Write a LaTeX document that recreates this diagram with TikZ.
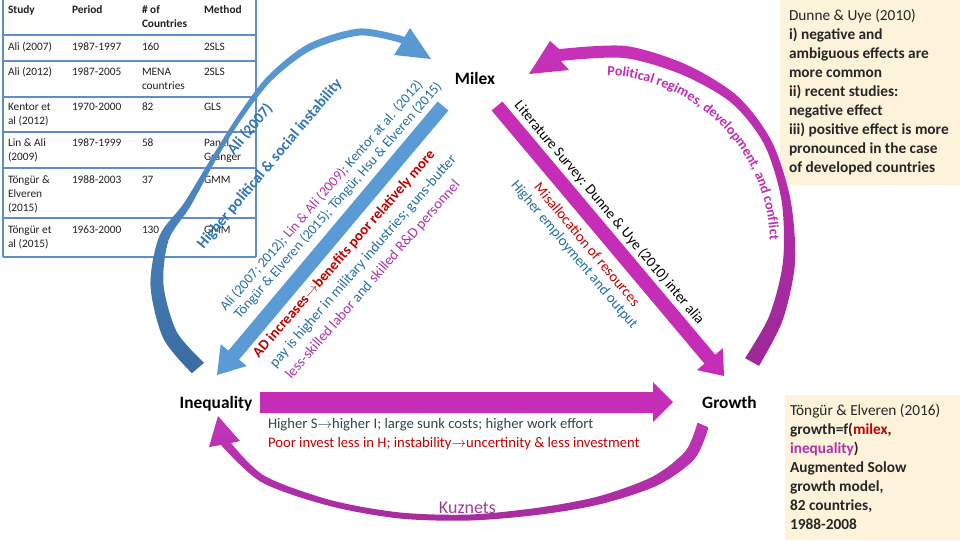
\documentclass[tikz,border=0pt]{standalone}
\usepackage{fontspec}
\setmainfont{Carlito}
\usetikzlibrary{calc,decorations.text}
\definecolor{tblue}{HTML}{246EA5}
\definecolor{hpblue}{HTML}{2E74B5}
\definecolor{tmag}{HTML}{B032A8}
\definecolor{tred}{HTML}{C00000}
\definecolor{tdark}{HTML}{2D4654}
\definecolor{bandblue}{HTML}{5B9BD5}
\definecolor{bandmag}{HTML}{C62DB6}
\definecolor{arcblueL}{HTML}{5B9BD5}
\definecolor{arcblueD}{HTML}{3A6BA3}
\definecolor{arcmagL}{HTML}{C731B9}
\definecolor{arcmagD}{HTML}{9C2898}
\definecolor{kuzmag}{HTML}{C334BA}
\definecolor{kuztext}{HTML}{9C3CA0}
\definecolor{boxfill}{HTML}{FDF2DA}
\definecolor{boxtext}{HTML}{262626}
\definecolor{tline}{HTML}{5E8DC8}
\definecolor{polc}{HTML}{BE2EB2}
\begin{document}
\begin{tikzpicture}[x=0.75pt,y=-0.75pt,
  lbl/.style={inner sep=0pt, outer sep=0pt},
  tbl/.style={lbl, anchor=base west, font=\fontsize{8.5}{10.5}\selectfont, text=black!88},
  tbh/.style={tbl, font=\fontsize{8.5}{10.5}\selectfont\bfseries},
  boxb/.style={lbl, anchor=base west, font=\fontsize{11.5}{14}\selectfont\bfseries, text=boxtext},
  boxr/.style={boxb, font=\fontsize{11.5}{14}\selectfont},
  mainlbl/.style={lbl, anchor=base, font=\fontsize{13}{15}\selectfont\bfseries, text=black},
  rottxt/.style={lbl, font=\fontsize{10.5}{12}\selectfont},
  rottxtb/.style={lbl, font=\fontsize{11}{13}\selectfont},
  tabline/.style={tline, line width=1.1pt}]
\useasboundingbox (0,0) rectangle (960,540);

% ---------- yellow boxes ----------
\fill[boxfill] (780,0) rectangle (960,185);
\fill[boxfill] (785,395) rectangle (960,540);

% ---------- table ----------
\draw[tabline] (3,0) -- (3,257) (256,0) -- (256,257);
\foreach \yy in {35,61,97,132,168,218,257} \draw[tabline] (3,\yy) -- (256,\yy);
\foreach \px/\py/\txt [count=\i] in {8/13.5/Study, 72/13.5/Period, 142/13.5/\# of, 142/27.5/Countries, 204/13.5/Method}
  \node[tbh] (th\i) at (\px,\py) {\txt};
\foreach \px/\py/\txt [count=\i] in {
  8/50/Ali (2007), 72/50/1987-1997, 142/50/160, 204/50/2SLS,
  8/75.5/Ali (2012), 72/75.5/1987-2005, 142/75.5/MENA, 142/89.5/countries, 204/75.5/2SLS,
  8/110.5/Kentor et, 8/124.5/al (2012), 72/110.5/1970-2000, 142/110.5/82, 204/110.5/GLS,
  8/146.5/Lin \& Ali, 8/160.5/(2009), 72/146.5/1987-1999, 142/146.5/58, 204/146.5/Panel, 204/160.5/Granger,
  8/183.5/Töngür \&, 8/197.5/Elveren, 8/211.5/(2015), 72/183.5/1988-2003, 142/183.5/37, 204/183.5/GMM,
  8/233.5/Töngür et, 8/247.5/al (2015), 72/233.5/1963-2000, 142/233.5/130, 204/233.5/GMM}
  \node[tbl] (td\i) at (\px,\py) {\txt};

% ---------- main nodes ----------
\node[mainlbl] (milex) at (475,84) {Milex};
\node[mainlbl] (ineq) at (216,408.5) {Inequality};
\node[mainlbl] (growth) at (729.5,408.5) {Growth};

% ---------- curved blue arrow (left) ----------
\shade[top color=arcblueL, bottom color=arcblueD]
  plot[smooth] coordinates {(191.9,373.2) (163.3,338.3) (150.5,285.4) (159.3,236.2) (184,203.1) (210.9,158.7) (237.9,115.6) (267.9,75.9) (308.4,43.9) (359.7,28.5) (404.5,36.8)}
  -- (410,28) -- (431,59) -- (394,55)
  -- plot[smooth] coordinates {(401.5,43.2) (360.3,35.5) (311.6,50.1) (272.1,80.1) (242.1,118.4) (215.1,161.3) (190,206.9) (168.7,239.8) (163.5,284.6) (176.7,331.7) (204.1,362.8)}
  -- cycle;

% ---------- curved magenta arrow (right) ----------
\shade[top color=arcmagL, bottom color=arcmagD]
  plot[smooth] coordinates {(759,365.8) (782.6,320.4) (795,262.5) (790.4,199.2) (771.6,141.2) (738,96.6) (687.2,65) (625.7,46) (559.2,49.1)}
  -- (550,41) -- (529,74) -- (569,70)
  -- plot[smooth] coordinates {(560.8,60.9) (624.3,58) (682.8,75) (732,103.4) (764.4,144.8) (781.6,200.8) (783,261.5) (769.4,315.6) (745,358.2)}
  -- cycle;

% ---------- curved magenta arrow (bottom, Kuznets) ----------
\shade[top color=kuzmag, bottom color=kuzmag!85!black]
  plot[smooth] coordinates {(708.5,427.4) (694.5,459) (657.2,485.5) (601,504) (540.5,514.5) (470,520.5) (399.7,518.5) (329.3,505.9) (261.4,482.1) (221,445)}
  -- (209,447) -- (218,416) -- (240,441)
  -- plot[smooth] coordinates {(231,443) (264.6,475.9) (330.7,500.1) (400.3,512.5) (470,514.5) (539.5,507.5) (599,496.2) (652.8,476.5) (685.5,451) (697.5,422.6)}
  -- cycle;

% ---------- straight block arrows ----------
\coordinate (bS) at (443,106); \coordinate (bT) at (217,375);
\coordinate (bB) at ($(bT)!19.5pt!(bS)$);
\draw[bandblue, line width=10.5pt] (bS) -- ($(bT)!18.5pt!(bS)$);
\fill[bandblue] ($(bB)!12.75pt!90:(bT)$) -- (bT) -- ($(bB)!12.75pt!-90:(bT)$) -- cycle;

\coordinate (mS) at (497,106); \coordinate (mT) at (724,376);
\coordinate (mB) at ($(mT)!16.5pt!(mS)$);
\draw[bandmag, line width=10.5pt] (mS) -- ($(mT)!15.5pt!(mS)$);
\fill[bandmag] ($(mB)!12.75pt!90:(mT)$) -- (mT) -- ($(mB)!12.75pt!-90:(mT)$) -- cycle;

\coordinate (hS) at (260,402); \coordinate (hT) at (673,402);
\coordinate (hB) at ($(hT)!15pt!(hS)$);
\draw[bandmag, line width=15.75pt] (hS) -- ($(hT)!14pt!(hS)$);
\fill[bandmag] ($(hB)!15pt!90:(hT)$) -- (hT) -- ($(hB)!15pt!-90:(hT)$) -- cycle;

% ---------- text along the right arc ----------
\path[decorate, decoration={text along path, text={|\fontsize{10.5}{12}\selectfont\bfseries\color{polc}|Political regimes, development, and conflict}}]
  (600,245) ++(-87.6:170) arc[start angle=-87.6, end angle=8, radius=170];

% ---------- texts along the blue band ----------
\node[rottxt, rotate=49, text=tblue] (l1) at (321.5,195.7) {Ali (2007; 2012); \textcolor{tmag}{Lin \& Ali (2009)}; Kentor at al. (2012)};
\node[rottxt, rotate=49, text=tblue] (l2) at (338.2,200.7) {Töngür \& Elveren (2015); Töngür, Hsu \& Elveren (2015)};
\node[rottxtb, rotate=49, text=tred, font=\fontsize{11}{13}\selectfont\bfseries] (l3) at (344.1,254.1) {AD increases$\rightarrow$benefits poor relatively more};
\node[rottxtb, rotate=49, text=tblue] (l4) at (363.5,261.5) {pay is higher in military industries; guns-butter};
\node[rottxtb, rotate=49, text=tmag] (l5) at (373,280) {less-skilled labor \textcolor{tblue}{and} skilled R\&D personnel};

% ---------- texts near left arc ----------
\node[lbl, rotate=50, text=hpblue, font=\fontsize{11.5}{13}\selectfont\bfseries] (hp) at (270,164) {Higher political \& social instability};
\node[lbl, rotate=50, text=hpblue, font=\fontsize{11.5}{13}\selectfont\bfseries] (ali7) at (250,129) {Ali (2007)};

% ---------- texts along the magenta band ----------
\node[rottxtb, rotate=-50, text=black] (lit) at (609.2,212.9) {Literature Survey: Dunne \& Uye (2010) inter alia};
\node[rottxtb, rotate=-50, text=tred] (mis) at (587.3,244.4) {Misallocation of resources};
\node[rottxtb, rotate=-50, text=tblue] (emp) at (574.1,255) {Higher employment and output};

% ---------- bottom texts ----------
\node[lbl, anchor=base west, font=\fontsize{11}{13}\selectfont, text=tdark] (hs) at (268,428.5) {Higher S$\rightarrow$higher I; large sunk costs; higher work effort};
\node[lbl, anchor=base west, font=\fontsize{11}{13}\selectfont, text=tred] (pi) at (268,447) {Poor invest less in H; instability$\rightarrow$uncertinity \& less investment};
\node[lbl, anchor=base, font=\fontsize{13.5}{15}\selectfont, text=kuztext] (kuz) at (467.5,513) {Kuznets};

% ---------- box 1 ----------
\node[boxr] (d1) at (789,20) {Dunne \& Uye (2010)};
\node[boxb] (d2) at (789,39) {i) negative and};
\node[boxb] (d3) at (789,58) {ambiguous effects are};
\node[boxb] (d4) at (789,77) {more common};
\node[boxb] (d5) at (789,96) {ii) recent studies:};
\node[boxb] (d6) at (789,115) {negative effect};
\node[boxb] (d7) at (789,134) {iii) positive effect is more};
\node[boxb] (d8) at (789,153) {pronounced in the case};
\node[boxb] (d9) at (789,172) {of developed countries};

% ---------- box 2 ----------
\node[boxr] (e1) at (790,415) {Töngür \& Elveren (2016)};
\node[boxb] (e2) at (790,434) {growth=f(\textcolor{tred}{milex},};
\node[boxb] (e3) at (790,453) {\textcolor{tmag}{inequality})};
\node[boxb] (e4) at (790,472) {Augmented Solow};
\node[boxb] (e5) at (790,491) {growth model,};
\node[boxb] (e6) at (790,510) {82 countries,};
\node[boxb] (e7) at (790,529) {1988-2008};
\end{tikzpicture}
\end{document}
